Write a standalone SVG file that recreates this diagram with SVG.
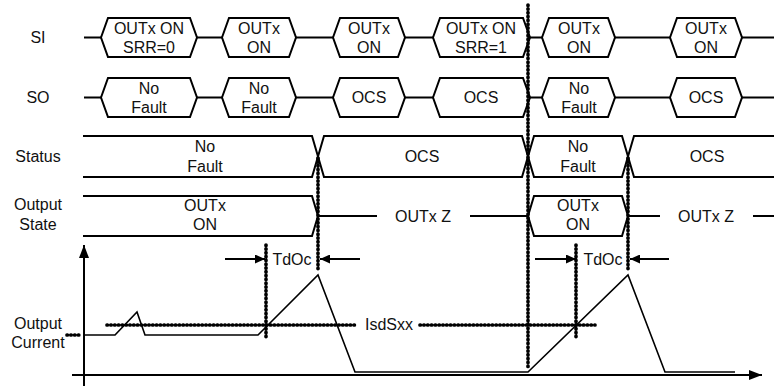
<svg xmlns="http://www.w3.org/2000/svg" width="774" height="386" viewBox="0 0 774 386">
<style>
.ln{fill:none;stroke:#000;stroke-width:2;stroke-linejoin:miter}
.wf{fill:none;stroke:#000;stroke-width:1.6}
.dot{fill:none;stroke:#000;stroke-width:3.7;stroke-dasharray:0.4 3.4;stroke-linecap:round}
text{font-family:"Liberation Sans",Arial,sans-serif;font-size:16px;fill:#111;text-anchor:middle}
</style>
<defs>
<marker id="ah" viewBox="0 0 10 9" refX="10" refY="4.5" markerWidth="10" markerHeight="9" markerUnits="userSpaceOnUse" orient="auto"><path d="M0,0 L10,4.5 L0,9 Z" fill="#000"/></marker>
<marker id="axh" viewBox="0 0 13 10" refX="13" refY="5" markerWidth="13" markerHeight="10" markerUnits="userSpaceOnUse" orient="auto"><path d="M0,0 L13,5 L0,10 Z" fill="#000"/></marker>
</defs>
<g id="labels">
<text x="38" y="43">SI</text>
<text x="38" y="103">SO</text>
<text x="38" y="162">Status</text>
<text x="38" y="210">Output</text>
<text x="38" y="230">State</text>
<text x="38" y="329">Output</text>
<text x="38" y="348">Current</text>
</g>
<g id="si-row">
<path class="ln" d="M84,37.5 H101 M197,37.5 H222 M296,37.5 H333 M405,37.5 H433 M530,37.5 H542 M615,37.5 H670 M742,37.5 H774"/>
<path class="ln" d="M101,37.5 L108,18 H190 L197,37.5 L190,57 H108 Z"/>
<path class="ln" d="M222,37.5 L229,18 H289 L296,37.5 L289,57 H229 Z"/>
<path class="ln" d="M333,37.5 L340,18 H398 L405,37.5 L398,57 H340 Z"/>
<path class="ln" d="M433,37.5 L440,18 H523 L530,37.5 L523,57 H440 Z"/>
<path class="ln" d="M542,37.5 L549,18 H608 L615,37.5 L608,57 H549 Z"/>
<path class="ln" d="M670,37.5 L677,18 H735 L742,37.5 L735,57 H677 Z"/>
<text x="149" y="34">OUTx ON</text><text x="149" y="53">SRR=0</text>
<text x="259" y="34">OUTx</text><text x="259" y="53">ON</text>
<text x="369" y="34">OUTx</text><text x="369" y="53">ON</text>
<text x="481" y="34">OUTx ON</text><text x="481" y="53">SRR=1</text>
<text x="579" y="34">OUTx</text><text x="579" y="53">ON</text>
<text x="706" y="34">OUTx</text><text x="706" y="53">ON</text>
</g>
<g id="so-row">
<path class="ln" d="M84,97.5 H101 M197,97.5 H222 M296,97.5 H333 M405,97.5 H433 M530,97.5 H542 M615,97.5 H670 M742,97.5 H774"/>
<path class="ln" d="M101,97.5 L108,78 H190 L197,97.5 L190,117 H108 Z"/>
<path class="ln" d="M222,97.5 L229,78 H289 L296,97.5 L289,117 H229 Z"/>
<path class="ln" d="M333,97.5 L340,78 H398 L405,97.5 L398,117 H340 Z"/>
<path class="ln" d="M433,97.5 L440,78 H523 L530,97.5 L523,117 H440 Z"/>
<path class="ln" d="M542,97.5 L549,78 H608 L615,97.5 L608,117 H549 Z"/>
<path class="ln" d="M670,97.5 L677,78 H735 L742,97.5 L735,117 H677 Z"/>
<text x="149" y="94">No</text><text x="149" y="113">Fault</text>
<text x="259" y="94">No</text><text x="259" y="113">Fault</text>
<text x="369" y="103">OCS</text>
<text x="481" y="103">OCS</text>
<text x="579" y="94">No</text><text x="579" y="113">Fault</text>
<text x="706" y="103">OCS</text>
</g>
<g id="status-row">
<path class="ln" d="M83,136 H312 L318,156.5 L312,177 H83"/>
<path class="ln" d="M318,156.5 L324,136 H522 L528,156.5 L522,177 H324 Z"/>
<path class="ln" d="M528,156.5 L534,136 H622 L628,156.5 L622,177 H534 Z"/>
<path class="ln" d="M774,136 H634 L628,156.5 L634,177 H774"/>
<text x="205" y="152">No</text><text x="205" y="172">Fault</text>
<text x="422" y="162">OCS</text>
<text x="578" y="152">No</text><text x="578" y="172">Fault</text>
<text x="707" y="162">OCS</text>
</g>
<g id="output-state-row">
<path class="ln" d="M83,196 H312 L318,216 L312,236 H83"/>
<path class="ln" d="M318,216 H377 M470,216 H528 M628,216 H660 M753,216 H774"/>
<path class="ln" d="M528,216 L534,196 H622 L628,216 L622,236 H534 Z"/>
<text x="205" y="211">OUTx</text><text x="205" y="230">ON</text>
<text x="423" y="222">OUTx Z</text>
<text x="578" y="211">OUTx</text><text x="578" y="230">ON</text>
<text x="706" y="222">OUTx Z</text>
</g>
<g id="current-plot">
<line class="ln" x1="84" y1="386" x2="84" y2="245" marker-end="url(#axh)"/>
<line class="ln" x1="72" y1="375" x2="762" y2="375" marker-end="url(#axh)"/>
<polyline class="wf" points="83,335 115,335 137,312 145,335 258,335 318,275 355,372 528,372 628,275 665,372 735,372"/>
<text x="292" y="265">TdOc</text>
<text x="603" y="265">TdOc</text>
<text x="389" y="330">IsdSxx</text>
</g>
<g id="connectors">
<path class="dot" d="M318,158 V272 M628,158 V272 M528,5 V367 M266,245 V340 M576,245 V340"/>
<path class="dot" d="M107,325 H357 M420,325 H595 M67,335 H82"/>
<line class="ln" x1="225" y1="259" x2="265" y2="259" marker-end="url(#ah)"/>
<line class="ln" x1="360" y1="259" x2="320" y2="259" marker-end="url(#ah)"/>
<line class="ln" x1="535" y1="259" x2="576" y2="259" marker-end="url(#ah)"/>
<line class="ln" x1="669" y1="259" x2="630" y2="259" marker-end="url(#ah)"/>
</g>
</svg>
